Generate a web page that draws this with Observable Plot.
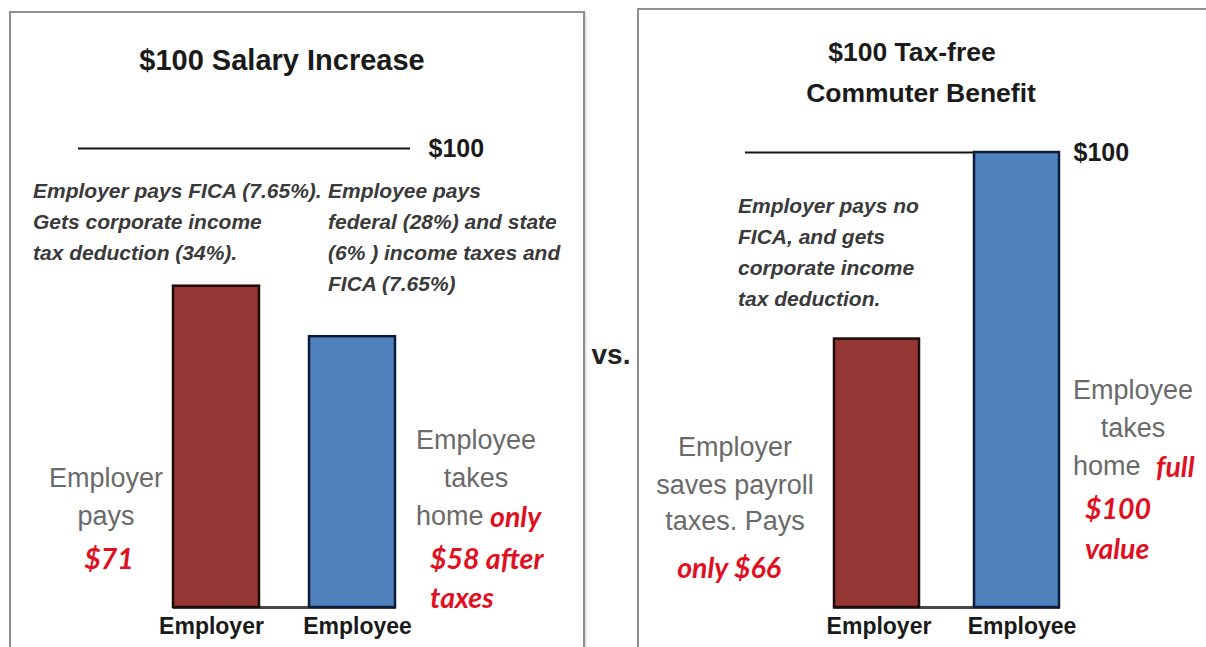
<!DOCTYPE html>
<html><head><meta charset="utf-8">
<script src="https://cdn.jsdelivr.net/npm/d3@7"></script>
<script src="https://cdn.jsdelivr.net/npm/@observablehq/plot@0.6"></script>
<style>
html,body{margin:0;padding:0;background:#fff;}
#root{position:relative;width:1206px;height:647px;overflow:hidden;background:#fff;font-family:"Liberation Sans",Arial,sans-serif;}
.panel{position:absolute;box-sizing:border-box;border:2px solid #8f8f8f;box-shadow:1px 1px 2px #d0d0d0;}
.t{position:absolute;white-space:nowrap;line-height:1;}
.title{font-weight:bold;color:#1a1a1a;}
.note{font-style:italic;font-weight:bold;color:#3a3a3a;font-size:21px;}
.gray{color:#6a6a6a;font-size:27px;}
.red{color:#e0101f;font-family:Lato,"Liberation Sans",sans-serif;font-style:italic;font-weight:bold;font-size:28.5px;}
.vs{font-weight:bold;color:#222;font-size:28px;}
.wrap{position:absolute;top:0;}
</style></head>
<body><div id="root"></div>
<script>
// ---- data ----
const categories = ["Employer", "Employee"];
const salaryValues = [70, 59];      // bar heights
const commuterValues = [59, 100];   // bar heights
const fillColors = ["#943634", "#4f81bd"];
const edgeColors = ["#1c0d0c", "#0e1c3a"];
const referenceValue = 100;
const referenceLabel = "$100";
const salaryTitle = ["$100 Salary Increase"];
const commuterTitle = ["$100 Tax-free", "Commuter Benefit"];
const salaryNotesEmployer = ["Employer pays FICA (7.65%).", "Gets corporate income", "tax deduction (34%)."];
const salaryNotesEmployee = ["Employee pays", "federal (28%) and state", "(6% ) income taxes and", "FICA (7.65%)"];
const commuterNotes = ["Employer pays no", "FICA, and gets", "corporate income", "tax deduction."];
const salaryEmployerGray = ["Employer", "pays"];
const salaryEmployerRed = ["$71"];
const salaryEmployeeGray = ["Employee", "takes", "home"];
const salaryEmployeeRed = ["only", "$58 after", "taxes"];
const commuterEmployerGray = ["Employer", "saves payroll", "taxes. Pays"];
const commuterEmployerRed = ["only $66"];
const commuterEmployeeGray = ["Employee", "takes", "home"];
const commuterEmployeeRed = ["full", "$100", "value"];
const vsLabel = "vs.";

// ---- layout ----
const root = document.getElementById("root");
function box(x, y, w, h) {
  const d = document.createElement("div");
  d.className = "panel";
  Object.assign(d.style, {left: x + "px", top: y + "px", width: w + "px", height: h + "px"});
  root.appendChild(d);
}
function place(text, x, y, cls, anchor = "middle", size) {
  const d = document.createElement("div");
  d.className = "t " + cls;
  d.textContent = text;
  if (size) d.style.fontSize = size + "px";
  d.style.left = x + "px";
  d.style.top = y + "px";
  d.style.transform = anchor === "middle" ? "translate(-50%,-50%)" : "translate(0,-50%)";
  root.appendChild(d);
}

box(9, 11, 576, 700);
box(637, 8, 620, 700);

function panelPlot(values, o) {
  const rows = categories.map((c, i) => ({cat: c, value: values[i], fill: fillColors[i], edge: edgeColors[i]}));
  const axisStyle = {tickSize: 0, tickPadding: 10, fontSize: 23, fontWeight: "bold", fill: "#1a1a1a", label: null};
  return Plot.plot({
    width: o.width, height: 647,
    marginLeft: o.left, marginRight: o.width - o.right, marginTop: o.top, marginBottom: 647 - o.bottom,
    x: {domain: categories, paddingInner: o.pad, paddingOuter: 0, axis: null},
    y: {domain: [0, referenceValue], axis: null},
    color: {type: "identity"},
    style: {background: "transparent", fontFamily: "Liberation Sans, Arial, sans-serif", overflow: "visible"},
    marks: [
      Plot.ruleY([referenceValue], {stroke: "#151515", strokeWidth: 2, insetLeft: o.refInsetLeft, insetRight: o.refInsetRight}),
      Plot.ruleY([0], {stroke: "#4a4a4a", strokeWidth: 3}),
      Plot.barY(rows, {x: "cat", y: "value", fill: "fill", stroke: "edge", strokeWidth: 2.5}),
      Plot.text([referenceValue], {y: d => d, frameAnchor: "right", dx: o.labelDx, textAnchor: "start", text: () => referenceLabel, fontWeight: "bold", fontSize: 25, fill: "#1a1a1a"}),
      Plot.axisX([categories[0]], {...axisStyle, dx: o.tickDx[0]}),
      Plot.axisX([categories[1]], {...axisStyle, dx: o.tickDx[1]})
    ]
  });
}

const leftPlot = panelPlot(salaryValues, {width: 600, left: 173, right: 396, top: 148, bottom: 607, pad: 0.366, refInsetLeft: -95, refInsetRight: -14, labelDx: 32, tickDx: [-5, 5]});
const rightPlot = panelPlot(commuterValues, {width: 606, left: 233, right: 460, top: 152, bottom: 607, pad: 0.39, refInsetLeft: -88, refInsetRight: 60, labelDx: 13, tickDx: [2, 5]});
const w1 = document.createElement("div"); w1.className = "wrap"; w1.style.left = "0px"; w1.appendChild(leftPlot); root.appendChild(w1);
const w2 = document.createElement("div"); w2.className = "wrap"; w2.style.left = "600px"; w2.appendChild(rightPlot); root.appendChild(w2);

// titles
place(salaryTitle[0], 282, 60, "title", "middle", 29);
place(commuterTitle[0], 912, 52, "title", "middle", 26.5);
place(commuterTitle[1], 921, 93, "title", "middle", 26.5);

// italic notes
salaryNotesEmployer.forEach((s, i) => place(s, 33, 190 + i * 31, "note", "left"));
salaryNotesEmployee.forEach((s, i) => place(s, 328, 190 + i * 31, "note", "left"));
commuterNotes.forEach((s, i) => place(s, 738, 205 + i * 31, "note", "left"));

// side annotations, left panel
place(salaryEmployerGray[0], 106, 478, "gray");
place(salaryEmployerGray[1], 106, 516, "gray");
place(salaryEmployerRed[0], 109, 558, "red");
place(salaryEmployeeGray[0], 476, 440, "gray");
place(salaryEmployeeGray[1], 476, 478, "gray");
place(salaryEmployeeGray[2], 416, 516, "gray", "left");
place(salaryEmployeeRed[0], 490, 516, "red", "left");
place(salaryEmployeeRed[1], 430, 558, "red", "left");
place(salaryEmployeeRed[2], 430, 597, "red", "left");

// side annotations, right panel
place(commuterEmployerGray[0], 735, 447, "gray");
place(commuterEmployerGray[1], 735, 485, "gray");
place(commuterEmployerGray[2], 735, 521, "gray");
place(commuterEmployerRed[0], 729, 567, "red");
place(commuterEmployeeGray[0], 1133, 390, "gray");
place(commuterEmployeeGray[1], 1133, 428, "gray");
place(commuterEmployeeGray[2], 1073, 466, "gray", "left");
place(commuterEmployeeRed[0], 1156, 466, "red", "left");
place(commuterEmployeeRed[1], 1085, 508, "red", "left");
place(commuterEmployeeRed[2], 1085, 548, "red", "left");

place(vsLabel, 611, 355, "vs");
</script></body></html>
